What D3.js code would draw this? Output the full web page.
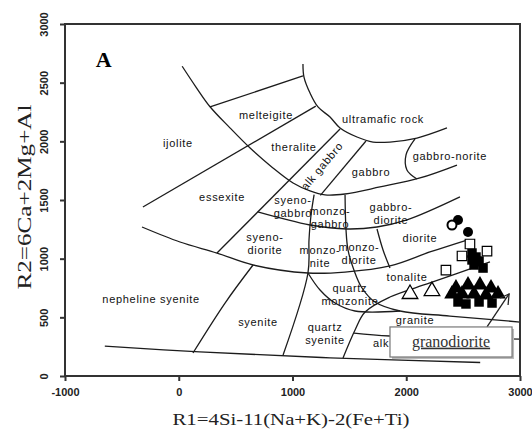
<!DOCTYPE html>
<html>
<head>
<meta charset="utf-8">
<script src="https://cdn.jsdelivr.net/npm/d3@7"></script>
<style>
  body { margin: 0; background: #fff; }
  svg { display: block; }
</style>
</head>
<body>
<div id="chart"></div>
<script>
  var width = 532,
  height = 431;

  // axis ticks
  var xTicks = [-1000, 0, 1000, 2000, 3000];
  var yTicks = [0, 500, 1000, 1500, 2000, 2500, 3000];

  // field boundaries, [R1, R2]
  var baseLine   = [[-650,255],[185,205],[1330,155],[2650,115]];
  var ijoliteArc = [[30,2640],[150,2465],[275,2295],[450,2115],[625,1945],[820,1780],[1005,1645],[1154,1577],[1286,1543],[1462,1551],[1769,1611],[2121,1688],[2446,1798]];
  var ultramafic = [[1092,2660],[1101,2548],[1154,2412],[1224,2293],[1330,2207],[1418,2114],[1567,2037],[1708,1994],[1857,1994],[2094,2028],[2358,2114]];
  var melteigTop = [[275,2293],[1092,2557]];
  var essexTop   = [[-315,1440],[1205,2300]];
  var alkGabL    = [[1418,2105],[336,1048]];
  var alkGabR    = [[1646,2003],[1245,1540]];
  var monzoLeft  = [[1190,1545],[1163,1372],[1145,1159],[1136,878],[917,179]];
  var gabbroBase = [[694,1398],[1154,1287],[1479,1253],[1743,1270],[2006,1330],[2472,1526]];
  var monzoRight = [[1462,1543],[1470,1253],[1488,1074],[1540,903],[1611,750],[1725,631],[1945,554],[2384,511],[3000,460]];
  var qSyenTop   = [[1136,878],[1242,733],[1374,622],[1549,554],[1945,554]];
  var tonaliteLo = [[1444,153],[1550,392],[1638,545],[1857,673],[2208,793],[2736,972]];
  var silicaLine = [[-323,1270],[11,1142],[336,1048],[653,946],[1136,878],[1462,886],[1857,938],[2208,1057],[2534,1159]];
  var nephSyen   = [[653,946],[407,622],[125,196]];
  var noriteLeft = [[2077,2020],[1998,1884],[2006,1756],[2094,1679]];
  var dioriteL   = [[1743,1253],[1796,1074],[1857,920]];
  var alkGranite = [[1541,366],[1857,341],[3000,315]];

  var boundaries = [baseLine, ijoliteArc, ultramafic, melteigTop, essexTop, alkGabL, alkGabR,
    monzoLeft, gabbroBase, monzoRight, qSyenTop, tonaliteLo, silicaLine, nephSyen,
    noriteLeft, dioriteL, alkGranite];

  // field names at block centres [R1, R2]
  var fieldLabels = [
    {name: ["melteigite"], at: [767, 2224]},
    {name: ["ultramafic rock"], at: [1796, 2190]},
    {name: ["ijolite"], at: [-7, 1986]},
    {name: ["theralite"], at: [1013, 1952]},
    {name: ["gabbro"], at: [1690, 1739]},
    {name: ["gabbro-norite"], at: [2384, 1875]},
    {name: ["essexite"], at: [381, 1526]},
    {name: ["syeno-", "gabbro"], at: [1004, 1445]},
    {name: ["monzo-", "gabbro"], at: [1330, 1351]},
    {name: ["gabbro-", "diorite"], at: [1866, 1385]},
    {name: ["diorite"], at: [2121, 1176]},
    {name: ["syeno-", "diorite"], at: [758, 1129]},
    {name: ["monzo-", "nite"], at: [1242, 1018]},
    {name: ["monzo-", "diorite"], at: [1585, 1040]},
    {name: ["tonalite"], at: [2006, 844]},
    {name: ["nepheline syenite"], at: [-243, 656]},
    {name: ["syenite"], at: [697, 460]},
    {name: ["quartz", "syenite"], at: [1286, 362]},
    {name: ["quartz", "monzonite"], at: [1505, 690]},
    {name: ["granite"], at: [2077, 477]}
  ];

  // samples [R1, R2]
  var openCircles     = [[2402,1287]];
  var filledCircles   = [[2455,1330],[2543,1227]];
  var openSquares     = [[2560,1125],[2490,1023],[2710,1065],[2349,903]];
  var filledSquares   = [[2578,1048],[2613,1014],[2596,946],[2675,920],[2578,989],[2640,980],[2525,614],[2640,631],[2754,622],[2455,631]];
  var openTriangles   = [[2033,699],[2226,724]];
  var filledTriangles = [[2437,750],[2543,776],[2648,776],[2745,750],[2490,699],[2596,699],[2701,690],[2807,699],[2402,699]];

  var x = d3.scaleLinear().domain([-1000, 3000]).range([65, 520]);
  var y = d3.scaleLinear().domain([0, 3000]).range([376, 24]);

  var svg = d3.select("#chart").append("svg")
      .attr("width", width)
      .attr("height", height);

  svg.append("rect").attr("width", width).attr("height", height).attr("fill", "#fff");

  var line = d3.line()
      .x(function(d) { return x(d[0]); })
      .y(function(d) { return y(d[1]); })
      .curve(d3.curveCatmullRom.alpha(0.5));

  svg.append("g")
    .selectAll("path")
      .data(boundaries)
    .enter().append("path")
      .attr("d", line)
      .attr("fill", "none")
      .attr("stroke", "#1c1c1c")
      .attr("stroke-width", 1.3);

  var labels = svg.append("g")
      .attr("font-family", "'Liberation Sans', Arial, sans-serif")
      .attr("font-size", 11)
      .attr("letter-spacing", 0.7)
      .attr("fill", "#111")
      .attr("text-anchor", "middle");

  fieldLabels.forEach(function(f) {
    var t = labels.append("text")
        .attr("x", x(f.at[0]))
        .attr("y", y(f.at[1]));
    f.name.forEach(function(s, i) {
      t.append("tspan")
        .attr("x", x(f.at[0]))
        .attr("dy", i === 0 ? (f.name.length > 1 ? "-0.25em" : "0.35em") : "1.2em")
        .text(s);
    });
  });

  // rotated alk gabbro
  labels.append("text")
      .attr("transform", "translate(" + x(1259) + "," + y(1790) + ") rotate(-50)")
      .attr("dy", "0.35em")
      .text("alk gabbro");

  // only the start of "alk granite" shows left of the call-out box
  labels.append("text")
      .attr("x", x(1708))
      .attr("y", y(281))
      .attr("dy", "0.35em")
      .attr("text-anchor", "start")
      .text("alk");

  // markers
  var pts = svg.append("g");
  var tri = d3.symbol().type(d3.symbolTriangle).size(105);
  var sq = d3.symbol().type(d3.symbolSquare).size(90);

  pts.selectAll(".ft").data(filledTriangles).enter().append("path")
      .attr("transform", function(d) { return "translate(" + x(d[0]) + "," + y(d[1]) + ")"; })
      .attr("d", tri).attr("fill", "#000");
  pts.selectAll(".fs").data(filledSquares).enter().append("path")
      .attr("transform", function(d) { return "translate(" + x(d[0]) + "," + y(d[1]) + ")"; })
      .attr("d", sq).attr("fill", "#000");
  pts.selectAll(".os").data(openSquares).enter().append("path")
      .attr("transform", function(d) { return "translate(" + x(d[0]) + "," + y(d[1]) + ")"; })
      .attr("d", sq).attr("fill", "#fff").attr("stroke", "#000").attr("stroke-width", 1.2);
  pts.selectAll(".ot").data(openTriangles).enter().append("path")
      .attr("transform", function(d) { return "translate(" + x(d[0]) + "," + y(d[1]) + ")"; })
      .attr("d", tri).attr("fill", "#fff").attr("stroke", "#000").attr("stroke-width", 1.3);
  pts.selectAll(".fc").data(filledCircles).enter().append("circle")
      .attr("cx", function(d) { return x(d[0]); })
      .attr("cy", function(d) { return y(d[1]); })
      .attr("r", 5).attr("fill", "#000");
  pts.selectAll(".oc").data(openCircles).enter().append("circle")
      .attr("cx", function(d) { return x(d[0]); })
      .attr("cy", function(d) { return y(d[1]); })
      .attr("r", 4.5).attr("fill", "#fff").attr("stroke", "#000").attr("stroke-width", 2);

  // granodiorite call-out
  var box = svg.append("g");
  box.append("line")
      .attr("x1", x(2710)).attr("y1", y(418))
      .attr("x2", x(2904)).attr("y2", y(699))
      .attr("stroke", "#222").attr("stroke-width", 1.3);
  box.append("path")
      .attr("d", "M" + (x(2904) - 9) + "," + (y(699) + 4) + "L" + x(2904) + "," + y(699) + "L" + (x(2904) - 1) + "," + (y(699) + 11))
      .attr("fill", "none").attr("stroke", "#222").attr("stroke-width", 1.3);
  box.append("rect")
      .attr("x", x(1857) + 2).attr("y", y(418) + 2)
      .attr("width", x(2930) - x(1857)).attr("height", y(162) - y(418))
      .attr("fill", "#bbb");
  box.append("rect")
      .attr("x", x(1857)).attr("y", y(418))
      .attr("width", x(2930) - x(1857)).attr("height", y(162) - y(418))
      .attr("fill", "#fff").attr("stroke", "#777").attr("stroke-width", 1.2);
  box.append("text")
      .attr("x", (x(1857) + x(2930)) / 2)
      .attr("y", y(250))
      .attr("text-anchor", "middle")
      .attr("font-family", "'Liberation Serif', 'Times New Roman', serif")
      .attr("font-size", 16)
      .attr("fill", "#333")
      .attr("text-decoration", "underline")
      .text("granodiorite");

  svg.append("text")
      .attr("x", x(-660))
      .attr("y", y(2633))
      .attr("text-anchor", "middle")
      .attr("font-family", "'Liberation Serif', 'Times New Roman', serif")
      .attr("font-weight", "bold")
      .attr("font-size", 22)
      .text("A");

  // frame
  svg.append("rect")
      .attr("x", x(-1000)).attr("y", y(3000))
      .attr("width", x(3000) - x(-1000)).attr("height", y(0) - y(3000))
      .attr("fill", "none").attr("stroke", "#333").attr("stroke-width", 2);

  var plain = function(d) { return String(d); };

  var gx = svg.append("g")
      .attr("transform", "translate(0," + y(0) + ")")
      .call(d3.axisBottom(x).tickValues(xTicks).tickFormat(plain).tickSize(5).tickSizeOuter(0));
  gx.select(".domain").remove();
  gx.selectAll("line").attr("stroke", "#333").attr("stroke-width", 2);
  gx.selectAll("text")
      .attr("y", 12)
      .attr("font-family", "'Liberation Sans', Arial, sans-serif")
      .attr("font-size", 11)
      .attr("font-weight", "bold")
      .attr("fill", "#222");

  var gy = svg.append("g")
      .attr("transform", "translate(" + x(-1000) + ",0)")
      .call(d3.axisLeft(y).tickValues(yTicks).tickFormat(plain).tickSize(5).tickSizeOuter(0));
  gy.select(".domain").remove();
  gy.selectAll("line").attr("stroke", "#333").attr("stroke-width", 2);
  gy.selectAll("text")
      .attr("transform", "rotate(-90)")
      .attr("x", 0)
      .attr("y", -17)
      .attr("dy", 0)
      .attr("text-anchor", "middle")
      .attr("font-family", "'Liberation Sans', Arial, sans-serif")
      .attr("font-size", 11)
      .attr("font-weight", "bold")
      .attr("fill", "#222");

  svg.append("text")
      .attr("x", 291)
      .attr("y", 425)
      .attr("text-anchor", "middle")
      .attr("font-family", "'Liberation Serif', 'Times New Roman', serif")
      .attr("font-size", 16)
      .attr("fill", "#222")
      .attr("textLength", 237)
      .attr("lengthAdjust", "spacingAndGlyphs")
      .text("R1=4Si-11(Na+K)-2(Fe+Ti)");

  svg.append("text")
      .attr("transform", "translate(31,197) rotate(-90)")
      .attr("text-anchor", "middle")
      .attr("font-family", "'Liberation Serif', 'Times New Roman', serif")
      .attr("font-size", 18)
      .attr("fill", "#222")
      .attr("textLength", 185)
      .attr("lengthAdjust", "spacingAndGlyphs")
      .text("R2=6Ca+2Mg+Al");
</script>
</body>
</html>
